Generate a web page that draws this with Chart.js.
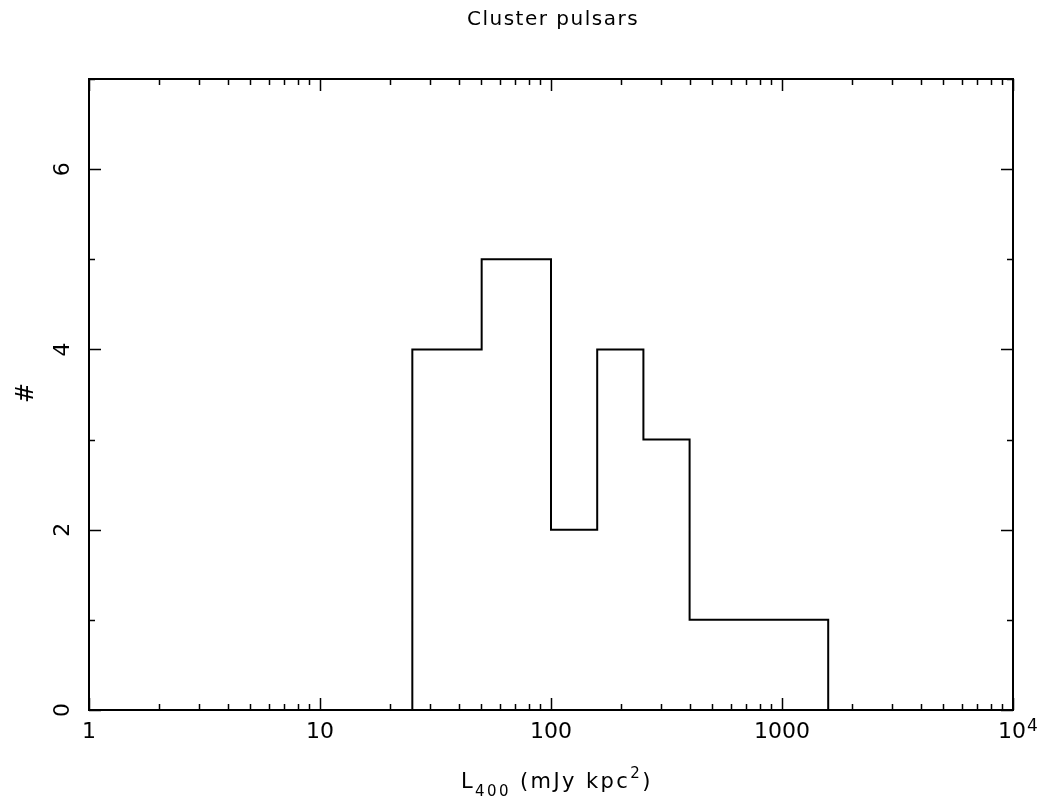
<!DOCTYPE html>
<html>
<head>
<meta charset="utf-8">
<script src="https://cdn.jsdelivr.net/npm/chart.js@4.4.1/dist/chart.umd.min.js"></script>
<style>
  html, body { margin: 0; padding: 0; background: #fff; }
  #wrap { width: 1039px; height: 810px; }
</style>
</head>
<body>
<div id="wrap"><canvas id="chart"></canvas></div>
<script>
// histogram bins (log-spaced edges) and counts per bin
const binEdges = [25.1, 50.1, 100, 158.5, 251.2, 398.1, 1585];
const counts = [4, 5, 2, 4, 3, 1];

const xMajor = [1, 10, 100, 1000, 10000];
const xLabels = ['1', '10', '100', '1000', '10'];
const yMajor = [0, 2, 4, 6];
const yMinor = [1, 3, 5, 7];

const FONT = '"DejaVu Sans", "Liberation Sans", sans-serif';

// outline of the histogram: start at zero, step through bins, drop back to zero
function buildSteps() {
    const pts = [{ x: binEdges[0], y: 0 }];
    counts.forEach((c, i) => pts.push({ x: binEdges[i], y: c }));
    pts.push({ x: binEdges[binEdges.length - 1], y: counts[counts.length - 1] });
    pts.push({ x: binEdges[binEdges.length - 1], y: 0 });
    return pts;
}

// draws a run of [text, size, dy] pieces left to right
function drawRuns(ctx, runs, x, y, spacing) {
    ctx.letterSpacing = spacing + 'px';
    runs.forEach(([t, size, dy]) => {
        ctx.font = size + 'px ' + FONT;
        ctx.fillText(t, x, y + dy);
        x += ctx.measureText(t).width;
    });
    ctx.letterSpacing = '0px';
    return x;
}

// frame, inward ticks on all four sides, labels
const framePlugin = {
    id: 'frame',
    afterDatasetsDraw(chart) {
        const { ctx, chartArea: a } = chart;
        const xs = chart.scales.x, ys = chart.scales.y;
        ctx.save();
        ctx.strokeStyle = '#000';
        ctx.lineWidth = 2;
        ctx.strokeRect(a.left, a.top, a.right - a.left, a.bottom - a.top);

        ctx.lineWidth = 1.5;
        ctx.beginPath();
        // x ticks: majors at decades, minors at 2..9
        for (let d = 1; d <= 10000; d *= 10) {
            for (let m = 1; m <= 9; m++) {
                const v = d * m;
                if (v > 10000) break;
                const px = Math.round(xs.getPixelForValue(v)) + 0.5;
                const len = m === 1 ? 12 : 6;
                ctx.moveTo(px, a.bottom); ctx.lineTo(px, a.bottom - len);
                ctx.moveTo(px, a.top); ctx.lineTo(px, a.top + len);
            }
        }
        // y ticks
        yMajor.concat(yMinor).forEach(v => {
            const py = Math.round(ys.getPixelForValue(v)) + 0.5;
            const len = yMajor.includes(v) ? 12 : 6;
            ctx.moveTo(a.left, py); ctx.lineTo(a.left + len, py);
            ctx.moveTo(a.right, py); ctx.lineTo(a.right - len, py);
        });
        ctx.stroke();

        ctx.fillStyle = '#000';
        // x tick labels
        ctx.font = '22px ' + FONT;
        ctx.textAlign = 'center';
        ctx.textBaseline = 'middle';
        xMajor.forEach((v, i) => {
            const px = xs.getPixelForValue(v);
            if (v === 10000) {
                ctx.textAlign = 'left';
                const end = drawRuns(ctx, [[xLabels[i], 22, 0]], px - 15, 732, 0);
                drawRuns(ctx, [['4', 17, -5]], end + 1, 732, 0);
                ctx.textAlign = 'center';
                ctx.font = '22px ' + FONT;
            } else {
                ctx.fillText(xLabels[i], px, 732);
            }
        });

        // y tick labels, rotated
        ctx.font = '22px ' + FONT;
        yMajor.forEach(v => {
            const py = ys.getPixelForValue(v);
            ctx.save();
            ctx.translate(63, py);
            ctx.rotate(-Math.PI / 2);
            ctx.fillText(String(v), 0, 0);
            ctx.restore();
        });

        // axis titles
        ctx.save();
        ctx.translate(27, 393);
        ctx.rotate(-Math.PI / 2);
        ctx.font = '24px ' + FONT;
        ctx.fillText('#', 0, 0);
        ctx.restore();

        ctx.textAlign = 'left';
        ctx.textBaseline = 'alphabetic';
        drawRuns(ctx, [
            ['L', 21, 0],
            ['400', 15, 8],
            [' (mJy kpc', 21, 0],
            ['2', 15, -10],
            [')', 21, 0]
        ], 461, 788, 2.4);

        // title
        ctx.textAlign = 'center';
        ctx.textBaseline = 'middle';
        ctx.letterSpacing = '1.5px';
        ctx.font = '20px ' + FONT;
        ctx.fillText('Cluster pulsars', 553, 20);
        ctx.letterSpacing = '0px';
        ctx.restore();
    }
};

new Chart(document.getElementById('chart'), {
    type: 'scatter',
    data: {
        datasets: [{
            data: buildSteps(),
            showLine: true,
            stepped: 'before',
            borderColor: '#000',
            borderWidth: 2,
            pointRadius: 0,
            fill: false
        }]
    },
    options: {
        responsive: true,
        maintainAspectRatio: false,
        animation: false,
        layout: { padding: { left: 81, right: 26, top: 79, bottom: 92 } },
        scales: {
            x: {
                type: 'logarithmic',
                min: 1,
                max: 10000,
                grid: { display: false },
                border: { display: false },
                ticks: { display: false }
            },
            y: {
                min: 0,
                max: 7,
                grid: { display: false },
                border: { display: false },
                ticks: { display: false }
            }
        },
        plugins: {
            legend: { display: false },
            tooltip: { enabled: false },
            title: { display: false }
        }
    },
    plugins: [framePlugin]
});
</script>
</body>
</html>
